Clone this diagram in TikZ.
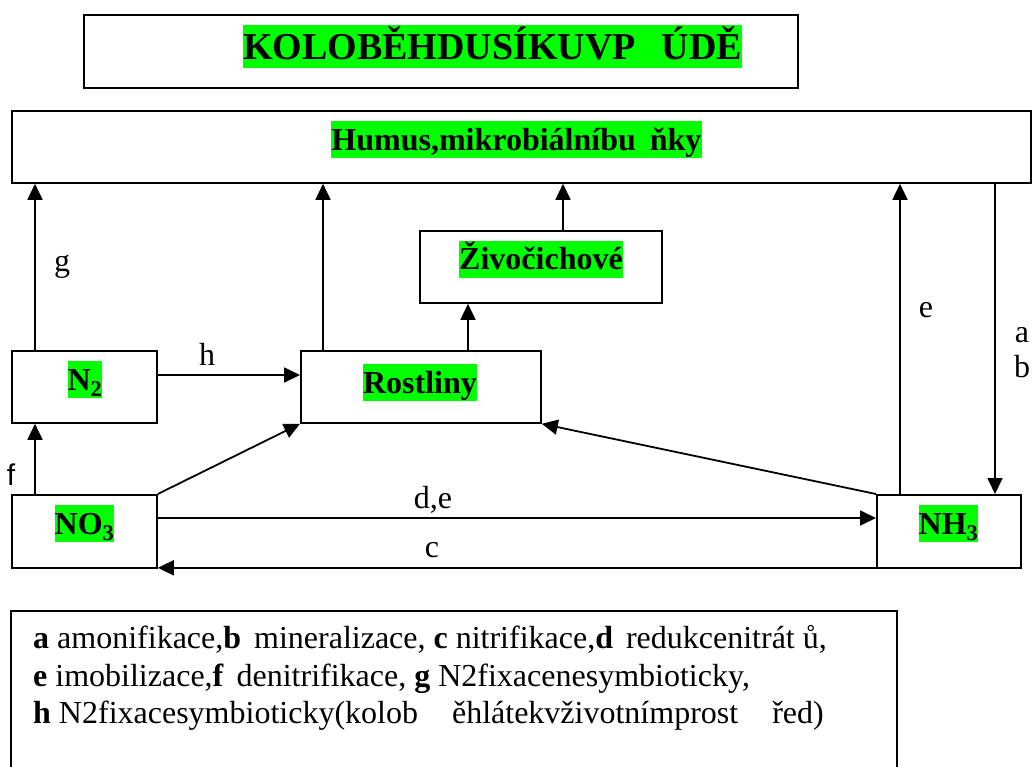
\documentclass[tikz,border=0pt]{standalone}
\usepackage{fontspec}
\setmainfont{Liberation Serif}
\newfontfamily\sansf{Liberation Sans}
\usetikzlibrary{arrows.meta}
\definecolor{hlgreen}{RGB}{0,255,0}
\begin{document}
\begin{tikzpicture}[x=1pt,y=-1pt,
  box/.style={draw,line width=1.8pt,inner sep=0pt,anchor=north west},
  arr/.style={line width=1.8pt,-{Triangle[length=16pt,width=15pt]}},
  plain/.style={line width=1.8pt},
  hl/.style={fill=hlgreen,inner xsep=0pt,inner ysep=0pt,font=\fontsize{32}{38}\selectfont\bfseries,text height=29pt,text depth=8pt},
  lbl/.style={inner sep=0pt,anchor=base,font=\fontsize{32}{38}\selectfont},
  legtext/.style={inner sep=0pt,anchor=base west,font=\fontsize{32}{38}\selectfont}]
\useasboundingbox (0,0) rectangle (1036,766);
% boxes
\node[box,line width=2.4pt,minimum width=714pt,minimum height=73pt] (title) at (83,14) {};
\node[box,minimum width=1019pt,minimum height=72pt] (humus) at (11,110) {};
\node[box,minimum width=145pt,minimum height=72pt] (n2) at (11,350) {};
\node[box,minimum width=145pt,minimum height=73pt] (no3) at (11,494) {};
\node[box,minimum width=240pt,minimum height=72pt] (rost) at (300,350) {};
\node[box,minimum width=242pt,minimum height=72pt] (ziv) at (419,230) {};
\node[box,minimum width=144pt,minimum height=73pt] (nh3) at (876,494) {};
% highlighted texts
\node[hl,font=\fontsize{38}{44}\selectfont\bfseries,text height=34pt,text depth=9pt] (titletext) at (492.5,46.5) {KOLOBĚHDUSÍKUVP\hspace{26pt}ÚDĚ};
\node[hl] (humustext) at (516.5,139.5) {Humus,mikrobiálníbu\hspace{14pt}ňky};
\node[hl] (zivtext) at (541,259) {Živočichové};
\node[hl] (rosttext) at (420,382.5) {Rostliny};
\node[hl] (n2text) at (85,379.5) {N\textsubscript{2}};
\node[hl] (no3text) at (84.5,523.5) {NO\textsubscript{3}};
\node[hl] (nh3text) at (948.5,523.5) {NH\textsubscript{3}};
% connectors
\coordinate (gS) at ([xshift=24pt]n2.north west);
\draw[arr] (gS) -- (gS |- humus.south);
\coordinate (rS) at ([xshift=23pt]rost.north west);
\draw[arr] (rS) -- (rS |- humus.south);
\coordinate (zS) at ([xshift=144pt]ziv.north west);
\draw[arr] (zS) -- (zS |- humus.south);
\coordinate (rzS) at ([xshift=168pt]rost.north west);
\draw[arr] (rzS) -- (rzS |- ziv.south);
\coordinate (eS) at ([xshift=24pt]nh3.north west);
\draw[arr] (eS) -- (eS |- humus.south);
\coordinate (abE) at ([xshift=119pt]nh3.north west);
\draw[arr] (abE |- humus.south) -- (abE);
\coordinate (hS) at ([yshift=-25pt]n2.north east);
\draw[arr] (hS) -- (hS -| rost.west);
\coordinate (fS) at ([xshift=24pt]no3.north west);
\draw[arr] (fS) -- (fS |- n2.south);
\draw[arr] (no3.north east) -- (rost.south west);
\draw[arr] (nh3.north west) -- (rost.south east);
\coordinate (deS) at ([yshift=-24pt]no3.north east);
\draw[arr] (deS) -- (deS -| nh3.west);
\coordinate (cS) at ([yshift=1pt]nh3.south west);
\draw[arr] (cS) -- (cS -| no3.east);
% labels
\node[lbl] (lg) at (62,271) {g};
\node[lbl] (lh) at (207,365) {h};
\node[lbl,font=\fontsize{30}{36}\sansf] (lf) at (11,485) {f};
\node[lbl] (le) at (926,317) {e};
\node[lbl] (la) at (1022,342) {a};
\node[lbl] (lb) at (1022,377) {b};
\node[lbl] (lde) at (433,508) {d,e};
\node[lbl] (lc) at (432,557) {c};
% legend
\draw[plain] (11,780) -- (11,611) -- (897,611) -- (897,780);
\node[legtext] (leg1) at (33,648) {\textbf{a} amonifikace,\textbf{b}\hspace{5pt} mineralizace, \textbf{c} nitrifikace,\textbf{d}\hspace{5pt} redukcenitrát ů,};
\node[legtext] (leg2) at (33,686) {\textbf{e} imobilizace,\textbf{f}\hspace{5pt} denitrifikace, \textbf{g} N2fixacenesymbioticky,};
\node[legtext] (leg3) at (33,723) {\textbf{h} N2fixacesymbioticky(kolob\hspace{26pt} ěhlátekvživotnímprost\hspace{26pt} řed)};
\end{tikzpicture}
\end{document}
